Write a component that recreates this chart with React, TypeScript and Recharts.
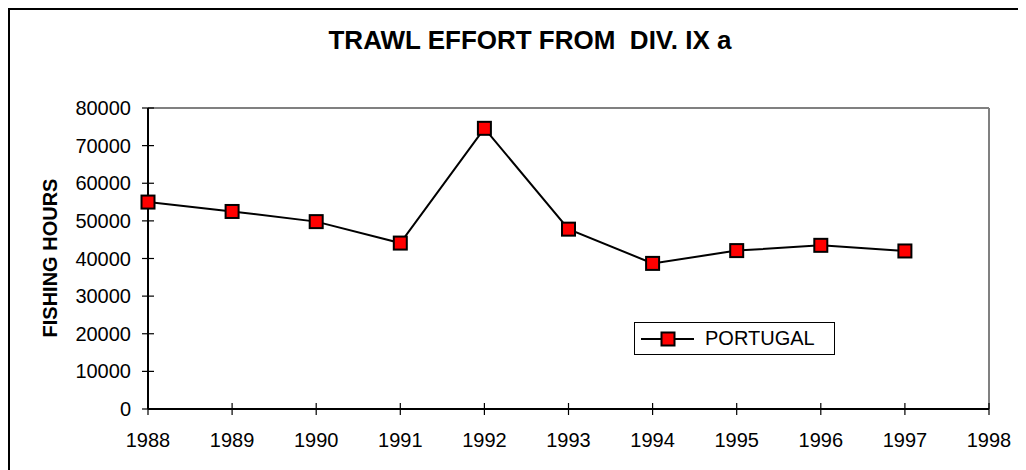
import { LineChart, Line, XAxis, YAxis, Legend, ReferenceLine } from 'recharts';

// Trawl effort, Div. IXa (fishing hours)
const years = [1988, 1989, 1990, 1991, 1992, 1993, 1994, 1995, 1996, 1997];
const portugal = [55000, 52500, 49800, 44100, 74600, 47800, 38700, 42100, 43500, 42000];
const xTicks = [1988, 1989, 1990, 1991, 1992, 1993, 1994, 1995, 1996, 1997, 1998];
const yTicks = [0, 10000, 20000, 30000, 40000, 50000, 60000, 70000, 80000];

const data = years.map((year, i) => ({ year, portugal: portugal[i] }));

const font = "Arial, 'Liberation Sans', sans-serif";
const colors = {
  line: '#000000',
  marker: '#FF0000',
  frame: '#808080',
  text: '#000000',
};

const SquareDot = (props: any) => {
  const { cx, cy } = props;
  if (cx == null || cy == null) return null;
  return (
    <rect x={cx - 6.5} y={cy - 6.5} width={13} height={13} fill={colors.marker} stroke="#000" strokeWidth={2} />
  );
};

// ticks that cross the axis line, like the original
const YTick = (props: any) => {
  const { x, y, payload } = props;
  const axisX = x + 17;
  return (
    <g>
      <line x1={axisX - 6} x2={axisX + 6} y1={y} y2={y} stroke="#000" strokeWidth={1.2} />
      <text x={x} y={y} dy={7} textAnchor="end" fontSize={20} fontFamily={font} fill={colors.text}>
        {payload.value}
      </text>
    </g>
  );
};

const XTick = (props: any) => {
  const { x, y, payload } = props;
  const axisY = y - 23;
  return (
    <g>
      <line x1={x} x2={x} y1={axisY - 6} y2={axisY + 6} stroke="#000" strokeWidth={1.2} />
      <text x={x} y={y} dy={15} textAnchor="middle" fontSize={20} fontFamily={font} fill={colors.text}>
        {payload.value}
      </text>
    </g>
  );
};

const LegendBox = () => (
  <div
    style={{
      width: 199,
      height: 31,
      border: '1px solid #000',
      background: '#fff',
      position: 'relative',
      fontFamily: font,
    }}
  >
    <svg width={60} height={31} style={{ position: 'absolute', left: 0, top: 0 }}>
      <line x1={6} x2={59} y1={16} y2={16} stroke="#000" strokeWidth={2} />
      <rect x={26.5} y={9.5} width={13} height={13} fill={colors.marker} stroke="#000" strokeWidth={2} />
    </svg>
    <span style={{ position: 'absolute', left: 70, top: 5, fontSize: 20, lineHeight: '20px', color: colors.text }}>
      PORTUGAL
    </span>
  </div>
);

export default function App() {
  return (
    <div
      style={{
        position: 'relative',
        width: 1016,
        height: 460,
        borderLeft: '2px solid #000',
        borderTop: '2px solid #000',
        background: '#fff',
        fontFamily: font,
      }}
    >
      <div
        style={{
          position: 'absolute',
          left: 520,
          top: 17,
          transform: 'translateX(-50%)',
          whiteSpace: 'pre',
          fontSize: 26,
          lineHeight: '26px',
          fontWeight: 'bold',
          color: colors.text,
        }}
      >
        TRAWL EFFORT FROM  DIV. IX a
      </div>
      <div
        style={{
          position: 'absolute',
          left: 40,
          top: 248,
          transform: 'translate(-50%, -50%) rotate(-90deg)',
          whiteSpace: 'nowrap',
          fontSize: 20,
          lineHeight: '20px',
          fontWeight: 'bold',
          color: colors.text,
        }}
      >
        FISHING HOURS
      </div>
      <LineChart width={1016} height={460} data={data} margin={{ top: 98, right: 37, left: 0, bottom: 21 }}>
        <XAxis
          dataKey="year"
          type="number"
          domain={[1988, 1998]}
          ticks={xTicks}
          interval={0}
          height={40}
          tickLine={false}
          tickSize={6}
          tickMargin={17}
          tick={<XTick />}
          axisLine={{ stroke: '#000', strokeWidth: 2 }}
        />
        <YAxis
          type="number"
          domain={[0, 80000]}
          ticks={yTicks}
          interval={0}
          width={138}
          tickLine={false}
          tickSize={6}
          tickMargin={11}
          tick={<YTick />}
          axisLine={{ stroke: '#000', strokeWidth: 2 }}
        />
        <ReferenceLine y={80000} stroke={colors.frame} strokeWidth={2} />
        <ReferenceLine x={1998} stroke={colors.frame} strokeWidth={2} />
        <Legend
          layout="horizontal"
          verticalAlign="middle"
          align="center"
          content={<LegendBox />}
          wrapperStyle={{ position: 'absolute', left: 624, top: 312, width: 201, height: 33, bottom: 'auto' }}
        />
        <Line
          type="linear"
          dataKey="portugal"
          name="PORTUGAL"
          stroke={colors.line}
          strokeWidth={2}
          dot={<SquareDot />}
          activeDot={false}
          isAnimationActive={false}
        />
      </LineChart>
    </div>
  );
}
